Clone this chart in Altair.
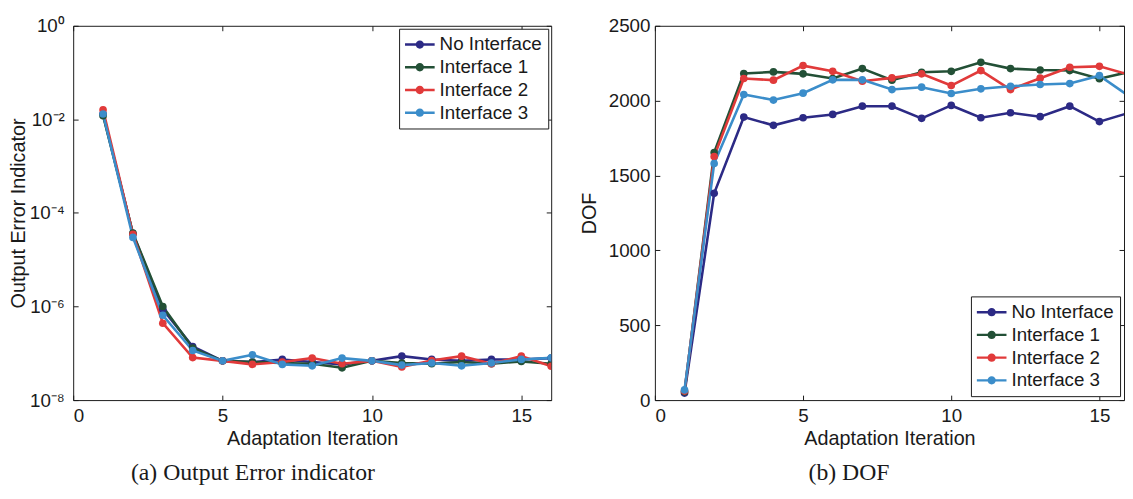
import altair as alt
import pandas as pd

ITER = list(range(1, 17))
SERIES = ["No Interface", "Interface 1", "Interface 2", "Interface 3"]
COLORS = ["#2c2a85", "#235036", "#e13a3a", "#3b8dca"]

ERR_NO = [1.3e-2, 3.6e-5, 8.7e-7, 1.4e-7, 6.9e-8, 6.5e-8, 7.4e-8, 6.5e-8, 5.8e-8, 6.9e-8, 8.7e-8, 7.4e-8, 6.9e-8, 7.4e-8, 7.4e-8, 7.9e-8]
ERR_1 = [1.2e-2, 3.7e-5, 1.0e-6, 1.3e-7, 6.9e-8, 6.5e-8, 6.2e-8, 6.0e-8, 4.9e-8, 6.9e-8, 6.2e-8, 6.0e-8, 6.5e-8, 6.0e-8, 6.7e-8, 6.0e-8]
ERR_2 = [1.6e-2, 3.5e-5, 4.4e-7, 8.1e-8, 6.9e-8, 5.8e-8, 6.5e-8, 7.9e-8, 6.0e-8, 6.9e-8, 5.1e-8, 7.0e-8, 8.7e-8, 6.0e-8, 8.7e-8, 5.3e-8]
ERR_3 = [1.3e-2, 3.0e-5, 6.5e-7, 1.15e-7, 6.9e-8, 9.3e-8, 5.8e-8, 5.4e-8, 7.9e-8, 6.9e-8, 5.6e-8, 6.2e-8, 5.4e-8, 6.2e-8, 7.4e-8, 8.0e-8]

DOF_NO = [47, 1381, 1890, 1835, 1886, 1908, 1963, 1963, 1882, 1968, 1886, 1919, 1893, 1963, 1860, 1919]
DOF_1 = [55, 1653, 2181, 2192, 2179, 2148, 2214, 2137, 2190, 2196, 2256, 2214, 2205, 2201, 2146, 2192]
DOF_2 = [60, 1627, 2148, 2137, 2234, 2196, 2130, 2152, 2179, 2101, 2201, 2074, 2150, 2223, 2229, 2174]
DOF_3 = [68, 1580, 2041, 2004, 2050, 2139, 2139, 2074, 2090, 2048, 2079, 2096, 2108, 2114, 2167, 2030]

X_TICKS = [0, 5, 10, 15]
LOG_TICKS = [1e-8, 1e-6, 1e-4, 1e-2, 1]
LOG_LABELS = ["10\u207b\u2078", "10\u207b\u2076", "10\u207b\u2074", "10\u207b\u00b2", "10\u2070"]
DOF_TICKS = [0, 500, 1000, 1500, 2000, 2500]

CAPTION_A = "(a) Output Error indicator"
CAPTION_B = "(b) DOF"

FONT = "Liberation Sans"
SERIF = "Liberation Serif"
INK = "#1a1a1a"

# legend symbol: a short line with a dot in its middle
SYMBOL = ("M-1,-0.12L2,-0.12L2,0.12L-1,0.12Z "
          "M0.92,0A0.42,0.42,0,1,1,0.08,0A0.42,0.42,0,1,1,0.92,0Z")


def make_df(values):
    rows = []
    for name, vals in zip(SERIES, values):
        for it, v in zip(ITER, vals):
            rows.append({"iter": it, "value": v, "series": name})
    return pd.DataFrame(rows)


def log_label_expr():
    parts = [f"datum.value < {v * 3:g} ? '{lab}'" for v, lab in zip(LOG_TICKS, LOG_LABELS)]
    return " : ".join(parts) + " : ''"


def panel(df, ytitle, yscale, yvalues, ylabel_expr, ylabel_pad, ytitle_pad,
          xdomain, width, height, legend_orient, legend_offset, caption, cap_dx):
    xs = alt.Scale(domain=xdomain, nice=False, zero=False)
    inner = dict(offset=-5, tickSize=5, domain=False, grid=False, tickColor=INK)
    x_bottom = alt.X("iter:Q", scale=xs,
                     axis=alt.Axis(values=X_TICKS, title="Adaptation Iteration", format="d",
                                   labelPadding=7, titlePadding=3, **inner))
    x_top = alt.X("iter:Q", scale=xs,
                  axis=alt.Axis(values=X_TICKS, orient="top", labels=False, title=None, **inner))
    yaxis_left = dict(values=yvalues, title=ytitle, labelPadding=ylabel_pad,
                      titlePadding=ytitle_pad, **inner)
    if ylabel_expr:
        yaxis_left["labelExpr"] = ylabel_expr
    else:
        yaxis_left["format"] = "d"
    y_left = alt.Y("value:Q", scale=yscale, axis=alt.Axis(**yaxis_left))
    y_right = alt.Y("value:Q", scale=yscale,
                    axis=alt.Axis(values=yvalues, orient="right", labels=False, title=None, **inner))
    color_scale = alt.Scale(domain=SERIES, range=COLORS)
    legend = alt.Legend(title=None, orient=legend_orient, offset=legend_offset,
                        symbolType=SYMBOL, symbolSize=400, symbolStrokeWidth=0,
                        symbolFillColor=None, symbolOpacity=1,
                        labelFont=FONT, labelFontSize=19, labelColor=INK,
                        labelOffset=15, padding=6, rowPadding=3,
                        strokeColor=INK, fillColor="white", cornerRadius=0,
                        labelLimit=300)
    lines = alt.Chart(df).mark_line(strokeWidth=2.6, clip=True).encode(
        x=x_bottom, y=y_left,
        color=alt.Color("series:N", scale=color_scale, legend=legend),
        detail="series:N",
    )
    points = alt.Chart(df).mark_point(filled=True, size=60, opacity=1, clip=True).encode(
        x=x_top, y=y_right,
        color=alt.Color("series:N", scale=color_scale, legend=legend),
    )
    return alt.layer(lines, points).resolve_axis(x="independent", y="independent").properties(
        width=width, height=height,
        title=alt.TitleParams(text=caption, orient="bottom", anchor="middle", frame="group",
                              dx=cap_dx, offset=13, font=SERIF, fontSize=24,
                              fontWeight="normal", color=INK),
    )


left = panel(make_df([ERR_NO, ERR_1, ERR_2, ERR_3]), "Output Error Indicator",
             alt.Scale(type="log", domain=[1e-8, 1], nice=False), LOG_TICKS, log_label_expr(),
             9, 1, [0, 16], 484, 379, "top-right", 3, CAPTION_A, -60)

right = panel(make_df([DOF_NO, DOF_1, DOF_2, DOF_3]), "DOF",
              alt.Scale(domain=[0, 2500], nice=False), DOF_TICKS, None,
              5, 9, [0, 15.83], 475, 379, "bottom-right", 4, CAPTION_B, -41)

chart = alt.hconcat(left, right, spacing=27).properties(
    padding={"left": 0, "top": 5, "right": 0, "bottom": 0}
).configure_view(stroke=INK, strokeWidth=1).configure_axis(
    labelFont=FONT, labelFontSize=19, labelColor=INK,
    titleFont=FONT, titleFontSize=20, titleColor=INK, titleFontWeight="normal",
)

chart.save("out.html", embed_options={"renderer": "svg", "actions": False})
